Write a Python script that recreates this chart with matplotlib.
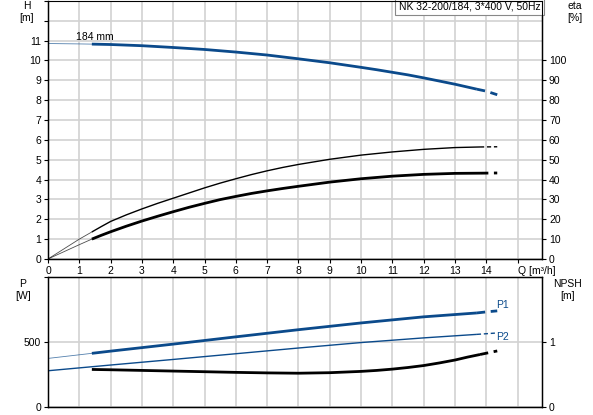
import numpy as np
import matplotlib
matplotlib.use('Agg')
import matplotlib.pyplot as plt

plt.rcParams['font.family'] = ['Liberation Sans', 'DejaVu Sans']
plt.rcParams['font.size'] = 7.5

# head curve H [m]
q_h = [0, 1, 1.4, 2, 3, 4, 5, 6, 7, 8, 9, 10, 10.5, 11, 11.5, 12, 12.5, 13, 13.7, 14.0, 14.35]
h = [10.85, 10.83, 10.82, 10.8, 10.74, 10.65, 10.55, 10.42, 10.27, 10.08, 9.88,
     9.65, 9.53, 9.4, 9.27, 9.12, 8.96, 8.8, 8.55, 8.45, 8.27]

# efficiency curves eta [%]
q_eta = [0, 1, 1.4, 1.7, 2, 2.5, 3, 3.5, 4, 4.5, 5, 5.5, 6, 6.5, 7, 7.5, 8, 9, 10,
         11, 12, 13, 13.8, 14.35]
eta_upper = [0, 10, 13.6, 16.3, 18.9, 22.2, 25.2, 28.0, 30.6, 33.2, 35.8, 38.2,
             40.4, 42.5, 44.4, 46.1, 47.6, 50.2, 52.3, 53.9, 55.2, 56.1, 56.4, 56.5]
eta_lower = [0, 7.2, 10.0, 11.9, 13.7, 16.5, 19.1, 21.5, 23.8, 26.0, 28.0, 29.9,
             31.5, 33.0, 34.3, 35.5, 36.6, 38.7, 40.4, 41.7, 42.6, 43.1, 43.2, 43.3]

# power curves P [W]
q_p1 = [0, 1.4, 2, 4, 6, 8, 10, 12, 13.7, 14, 14.35]
p1 = [375, 414, 431, 485, 541, 596, 648, 695, 725, 733, 741]
q_p2 = [0, 2, 4, 6, 8, 10, 12, 13.7, 14, 14.35]
p2 = [280, 324, 367, 411, 455, 497, 533, 560, 565, 571]

# NPSH [m]
q_npsh = [1.4, 2, 4, 6, 7, 8, 9, 10, 10.5, 11, 11.5, 12, 12.5, 13, 13.4, 13.8, 14.35]
npsh = [0.58, 0.575, 0.555, 0.535, 0.527, 0.522, 0.53, 0.55, 0.565, 0.585, 0.61,
        0.64, 0.68, 0.725, 0.77, 0.81, 0.865]

blue = '#0b4a8b'
grid_c = '#d2d2d2'
Q_START, Q_END = 1.4, 13.7


def seg(q, v, lo, hi):
    q = np.array(q); v = np.array(v)
    m = (q >= lo) & (q <= hi)
    return q[m], v[m]


def draw(ax, q, v, color, lw, start=Q_START, end=Q_END, thin=True):
    if thin:
        a, b = seg(q, v, 0, start)
        ax.plot(a, b, color=color, lw=0.6, alpha=0.7)
        a, b = seg(q, v, start, end)
    else:
        a, b = seg(q, v, 0, end)
    ax.plot(a, b, color=color, lw=lw, solid_capstyle='butt', solid_joinstyle='round')
    a, b = seg(q, v, end, 20)
    ax.plot(a, b, color=color, lw=lw, dashes=(3, 2))


fig = plt.figure(figsize=(5.93, 4.15), dpi=100)
ax1 = fig.add_axes([0.081, 0.376, 0.833, 0.622])
ax2 = fig.add_axes([0.081, 0.019, 0.833, 0.313])

xmax = 15.78
for ax in (ax1, ax2):
    ax.set_xlim(0, xmax)
    ax.set_xticks(range(16))
    ax.grid(True, color=grid_c, lw=1.2)
    ax.set_axisbelow(True)
    ax.tick_params(direction='out', length=3, width=0.8, pad=2, labelsize=7.5)
    for s in ax.spines.values():
        s.set_linewidth(1.0)

# top panel
ax1.set_ylim(0, 13)
ax1.set_yticks(range(14))
ax1.set_yticklabels([str(i) for i in range(12)] + ['', ''])
ax1.set_xticklabels([str(i) for i in range(15)] + [''])
ax1.spines['top'].set_visible(False)
ax1.text(15.0, -0.33, 'Q [m³/h]', ha='left', va='top', fontsize=7.5)

ax1r = ax1.twinx()
ax1r.set_ylim(0, 130)
ax1r.set_yticks(range(0, 101, 10))
ax1r.tick_params(direction='out', length=3, width=0.8, pad=2, labelsize=7.5)

draw(ax1, q_h, h, blue, 2.0)
draw(ax1r, q_eta, eta_upper, 'black', 1.0, end=13.8)
draw(ax1r, q_eta, eta_lower, 'black', 2.0, end=13.8)
ax1.text(0.9, 10.95, '184 mm', fontsize=7.5, va='bottom')

fig.text(27 / 593, 1 - 12 / 415, 'H\n[m]', ha='center', va='center', fontsize=7.5, linespacing=1.3)
fig.text(575 / 593, 1 - 12 / 415, 'eta\n[%]', ha='center', va='center', fontsize=7.5, linespacing=1.3)
ax1.text(0.997, 0.999, 'NK 32-200/184, 3*400 V, 50Hz', transform=ax1.transAxes,
         ha='right', va='top', fontsize=7.5,
         bbox=dict(facecolor='white', edgecolor='#888888', lw=0.8, pad=2.5))

# bottom panel
ax2.set_ylim(0, 1000)
ax2.set_yticks([0, 500, 1000])
ax2.set_yticklabels(['0', '500', ''])
ax2.tick_params(axis='x', labelbottom=False, length=0)
ax2r = ax2.twinx()
ax2r.set_ylim(0, 2)
ax2r.set_yticks([0, 1])
ax2r.tick_params(direction='out', length=3, width=0.8, pad=2, labelsize=7.5)

draw(ax2, q_p1, p1, blue, 2.0)
draw(ax2, q_p2, p2, blue, 1.0, thin=False)
draw(ax2r, q_npsh, npsh, 'black', 2.0, end=13.8, thin=False)
ax2.text(14.3, 745, 'P1', color=blue, fontsize=7.5, va='bottom')
ax2.text(14.3, 575, 'P2', color=blue, fontsize=7.5, va='top')

fig.text(23 / 593, 1 - 290 / 415, 'P\n[W]', ha='center', va='center', fontsize=7.5, linespacing=1.3)
fig.text(568 / 593, 1 - 290 / 415, 'NPSH\n[m]', ha='center', va='center', fontsize=7.5, linespacing=1.3)

fig.savefig('out.png', dpi=100)
